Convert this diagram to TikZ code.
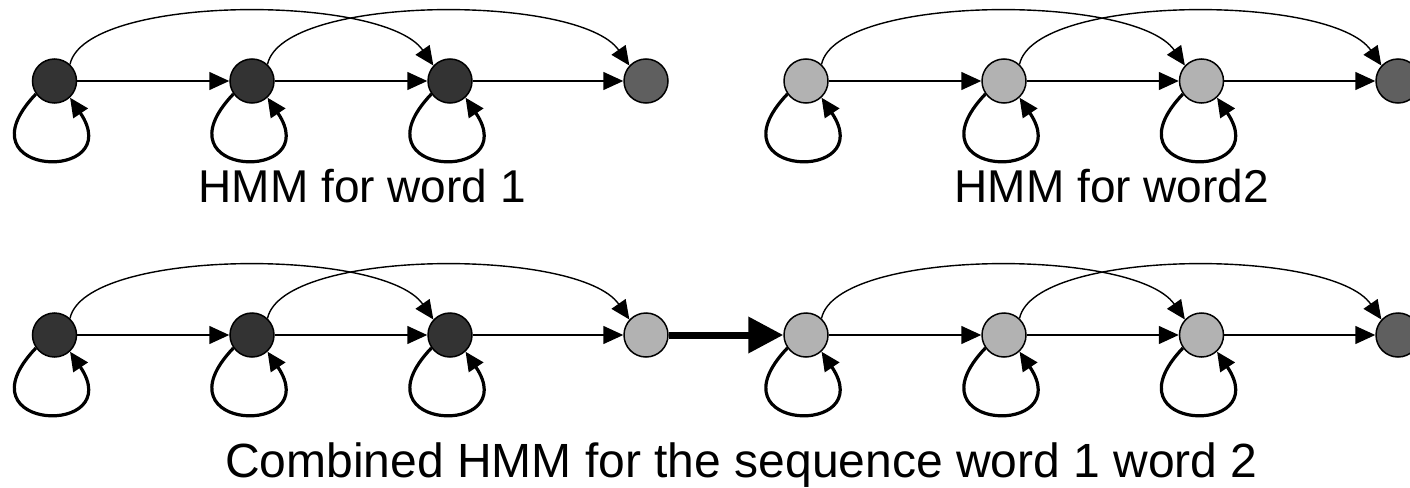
\documentclass[tikz,border=0pt]{standalone}
\usepackage{fontspec}
\setmainfont{Liberation Sans}
\usetikzlibrary{arrows.meta}
\definecolor{stateDark}{HTML}{333333}
\definecolor{stateMid}{HTML}{5F5F5F}
\definecolor{stateLight}{HTML}{B2B2B2}
\begin{document}
\begin{tikzpicture}[x=1pt,y=-1pt,
  state/.style={circle,draw=black,line width=1.5pt,minimum size=44pt,inner sep=0pt},
  sdark/.style={state,fill=stateDark},
  smid/.style={state,fill=stateMid},
  slight/.style={state,fill=stateLight},
  trans/.style={line width=1.5pt,-{Triangle[length=20pt,width=18pt]}},
  skiparc/.style={line width=1.4pt,-{Triangle[length=19pt,width=17pt]}},
  selfloop/.style={line width=3.2pt,-{Triangle[length=19pt,width=17pt]}},
  joinarrow/.style={line width=7pt,-{Triangle[length=35pt,width=35pt]}},
  caption/.style={anchor=base west,inner sep=0pt,font=\fontsize{46}{52}\selectfont}]
\useasboundingbox (0,0) rectangle (1410,487);

% HMM for word 1
\foreach \i/\x in {1/54.5,2/252,3/450} \node[sdark] (t\i) at (\x,81) {};
\node[smid] (t4) at (646,81) {};
% HMM for word 2
\foreach \i/\x in {1/806,2/1004,3/1201.5} \node[slight] (u\i) at (\x,81) {};
\node[smid] (u4) at (1398,81) {};
% combined HMM
\foreach \i/\x in {1/54.5,2/252,3/450} \node[sdark] (b\i) at (\x,335) {};
\foreach \i/\x in {4/646,5/806,6/1004,7/1201.5} \node[slight] (b\i) at (\x,335) {};
\node[smid] (b8) at (1398,335) {};

% forward transitions
\foreach \a/\c in {t1/t2,t2/t3,t3/t4,u1/u2,u2/u3,u3/u4,b1/b2,b2/b3,b3/b4,b5/b6,b6/b7,b7/b8}
  \draw[trans] (\a) -- (\c);
\draw[joinarrow] (b4) -- (b5);

% skip transitions
\foreach \a/\c in {t1/t3,t2/t4,u1/u3,u2/u4,b1/b3,b2/b4,b5/b7,b6/b8}
  \draw[skiparc] (\a.47) .. controls +(15,-70) and +(-50,-72) .. (\c.137);

% self transitions
\foreach \n in {t1,t2,t3,u1,u2,u3,b1,b2,b3,b5,b6,b7}
  \draw[selfloop] (\n.215) .. controls +(-80,84) and +(58,86) .. (\n.-47);

% captions
\node[caption] (cap1) at (198.5,202) {HMM for word 1};
\node[caption] (cap2) at (954.5,202) {HMM for word2};
\node[caption,font=\fontsize{48}{54}\selectfont] (cap3) at (225,477) {Combined HMM for the sequence word 1 word 2};
\end{tikzpicture}
\end{document}
